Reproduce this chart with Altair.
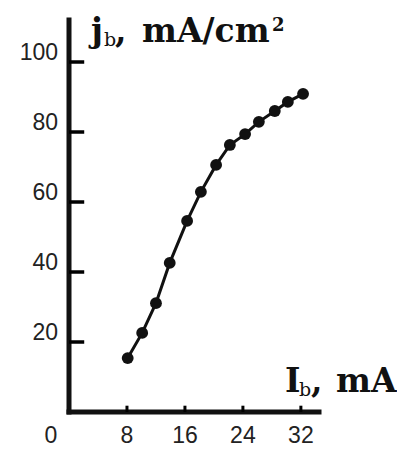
import altair as alt
import pandas as pd

# --- data ---
ib_ma = [8.1, 10.1, 12.0, 13.9, 16.3, 18.2, 20.3, 22.2, 24.3, 26.2, 28.4, 30.2, 32.3]
jb_ma_cm2 = [15.4, 22.6, 31.1, 42.6, 54.6, 62.9, 70.6, 76.3, 79.4, 82.9, 86.0, 88.6, 90.9]
x_tick_values = [8, 16, 24, 32]
x_label_values = [0, 8, 16, 24, 32]
y_tick_values = [20, 40, 60, 80, 100]
title_parts = ["j", "b", ",", "mA/cm", "2"]
xlabel_parts = ["I", "b", ",", "mA"]

W, H = 250, 392
INK = "#111111"
X_MAX, Y_MAX = 34.5, 112

df = pd.DataFrame({"ib": ib_ma, "jb": jb_ma_cm2})
xs = alt.Scale(domain=[0, X_MAX], nice=False, zero=True)
ys = alt.Scale(domain=[0, Y_MAX], nice=False, zero=True)

base = alt.Chart(df)
line = base.mark_line(color=INK, strokeWidth=3).encode(
    x=alt.X("ib:Q", scale=xs, axis=None),
    y=alt.Y("jb:Q", scale=ys, axis=None),
)
pts = base.mark_circle(color=INK, size=140, opacity=1).encode(
    x=alt.X("ib:Q", scale=xs, axis=None),
    y=alt.Y("jb:Q", scale=ys, axis=None),
)

# hand-drawn style axes: thick domain lines
ydom = alt.Chart(pd.DataFrame({"a": [0.0], "lo": [0.0], "hi": [Y_MAX]})).mark_rule(
    color=INK, strokeWidth=5, strokeCap="square"
).encode(
    x=alt.X("a:Q", scale=xs, axis=None),
    y=alt.Y("lo:Q", scale=ys, axis=None),
    y2=alt.Y2("hi"),
)
xdom = alt.Chart(pd.DataFrame({"a": [0.0], "lo": [0.0], "hi": [X_MAX]})).mark_rule(
    color=INK, strokeWidth=5, strokeCap="square"
).encode(
    y=alt.Y("a:Q", scale=ys, axis=None),
    x=alt.X("lo:Q", scale=xs, axis=None),
    x2=alt.X2("hi"),
)

# inward-pointing ticks (length given in data units of the other axis)
ytk_df = pd.DataFrame({"v": y_tick_values, "a": [0.0] * 5, "b": [2.1] * 5})
ytk = alt.Chart(ytk_df).mark_rule(stroke="#000000", color="#000000", strokeWidth=3.5, opacity=1).encode(
    y=alt.Y("v:Q", scale=ys, axis=None),
    x=alt.X("a:Q", scale=xs, axis=None),
    x2=alt.X2("b"),
)
xtk_df = pd.DataFrame({"v": x_tick_values, "a": [0.0] * 4, "b": [1.8] * 4})
xtk = alt.Chart(xtk_df).mark_rule(stroke="#000000", color="#000000", strokeWidth=3, opacity=1).encode(
    x=alt.X("v:Q", scale=xs, axis=None),
    y=alt.Y("a:Q", scale=ys, axis=None),
    y2=alt.Y2("b"),
)

# tick labels
LABEL_FONT = dict(font="Liberation Sans", fontSize=23, color="#222222")
ylab = alt.Chart(pd.DataFrame({"v": y_tick_values})).mark_text(
    align="right", baseline="alphabetic", dy=-2, **LABEL_FONT
).encode(
    y=alt.Y("v:Q", scale=ys, axis=None),
    x=alt.value(-11),
    text=alt.Text("v:Q"),
)
xlab_df = pd.DataFrame({"v": x_label_values})
xlab = alt.Chart(xlab_df).transform_filter("datum.v > 0").mark_text(
    align="center", baseline="alphabetic", **LABEL_FONT
).encode(
    x=alt.X("v:Q", scale=xs, axis=None),
    y=alt.value(H + 31),
    text=alt.Text("v:Q"),
)
xlab0 = alt.Chart(xlab_df).transform_filter("datum.v == 0").mark_text(
    align="center", baseline="alphabetic", dx=-18, **LABEL_FONT
).encode(
    x=alt.X("v:Q", scale=xs, axis=None),
    y=alt.value(H + 31),
    text=alt.Text("v:Q"),
)


def txt(text, x, y, size, weight="bold"):
    return alt.Chart(pd.DataFrame({"t": [text]})).mark_text(
        align="left", baseline="alphabetic", font="DejaVu Serif",
        fontSize=size, fontWeight=weight, color=INK,
    ).encode(text="t:N", x=alt.value(x), y=alt.value(y))


title_layers = [
    txt(title_parts[0], 22, 22, 33),
    txt(title_parts[1], 35, 26, 19, "normal"),
    txt(title_parts[2], 46, 22, 33),
    txt(title_parts[3], 73, 22, 33),
    txt(title_parts[4], 203, 11, 18),
]
xlabel_layers = [
    txt(xlabel_parts[0], 216, 372, 33),
    txt(xlabel_parts[1], 230, 376, 19, "normal"),
    txt(xlabel_parts[2], 242, 372, 33),
    txt(xlabel_parts[3], 267, 372, 33),
]

chart = alt.layer(
    ydom, xdom, ylab, xlab, xlab0, line, pts, ytk, xtk, *title_layers, *xlabel_layers
).properties(
    width=W, height=H,
    autosize=alt.AutoSizeParams(type="none"),
    padding={"left": 61, "top": 12, "right": 78, "bottom": 36},
).configure(background="white").configure_view(stroke=None)

chart.save("out.html", embed_options={"renderer": "svg", "actions": False})
